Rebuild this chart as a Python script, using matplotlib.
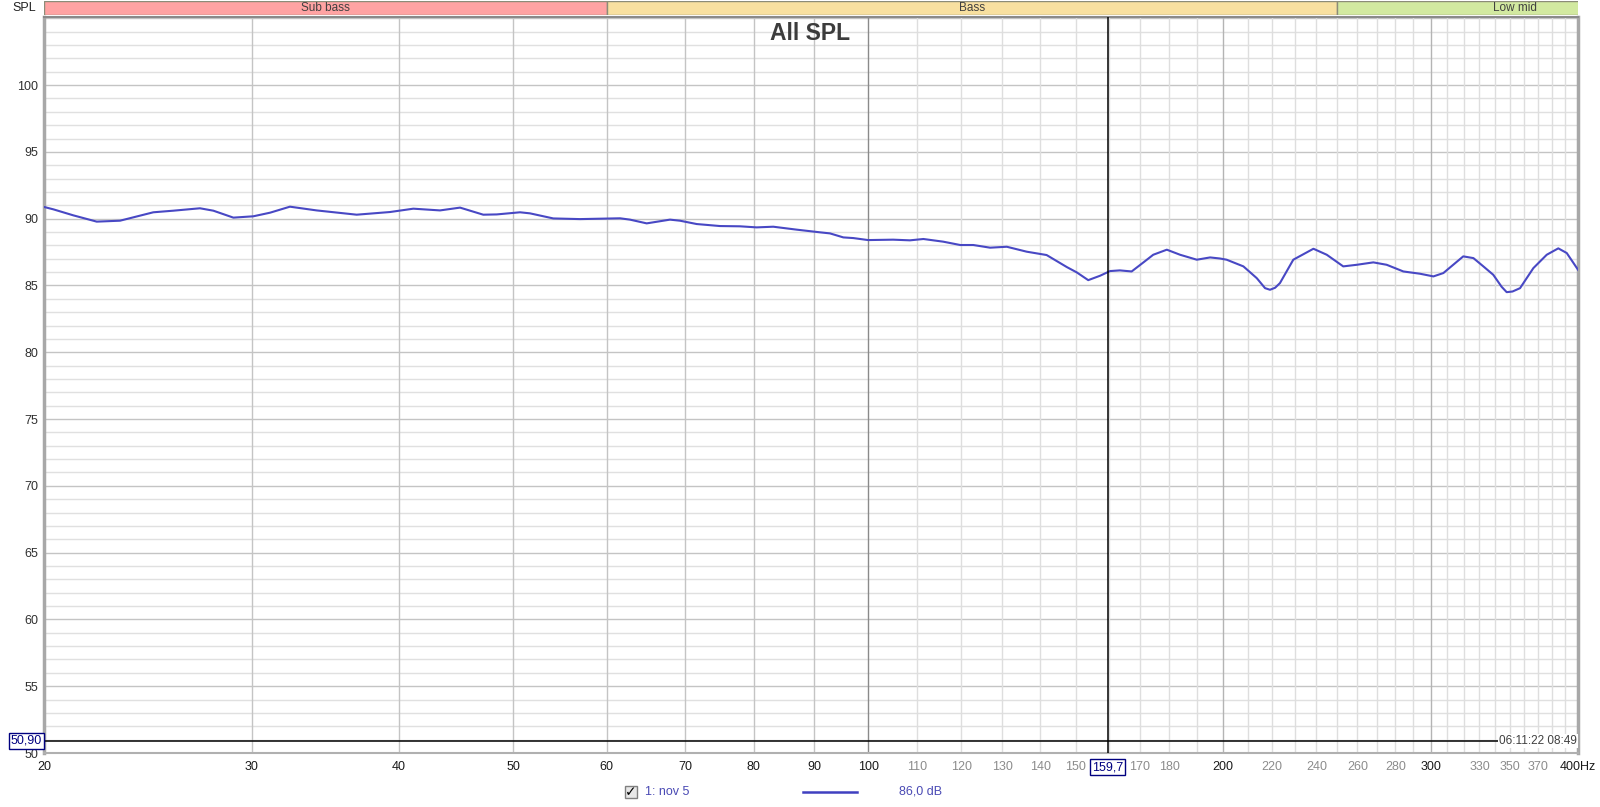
#import libraries
import matplotlib
matplotlib.use('Agg')
import matplotlib.pyplot as plt
from matplotlib.patches import Rectangle
from matplotlib.transforms import blended_transform_factory

plt.rcParams['font.family'] = ['Liberation Sans', 'DejaVu Sans']

freq = [20.0, 20.37, 21.18, 22.17, 23.20, 24.76, 25.75, 27.12, 27.84, 28.95,
        30.10, 31.10, 32.33, 34.06, 36.83, 39.31, 41.14, 43.34, 45.07, 47.16,
        48.42, 50.67, 51.67, 54.07, 56.97, 61.60, 62.81, 64.89, 67.91, 69.25,
        71.55, 74.88, 77.86, 80.44, 83.09, 86.98, 91.03, 92.82, 95.27, 97.15,
        100.0, 105.0, 108.5, 111.4, 115.8, 119.7, 122.8, 126.9, 131.1, 136.3,
        141.7, 147.4, 150.3, 153.7, 157.3, 160.4, 163.5, 167.3, 171.2, 174.5,
        179.2, 183.9, 190.0, 195.0, 198.8, 201.4, 208.1, 213.6, 217.1, 219.2,
        221.4, 223.5, 229.4, 238.6, 244.9, 252.9, 259.7, 268.2, 275.3, 284.4,
        293.8, 301.6, 307.5, 319.7, 326.1, 332.5, 339.0, 344.6, 348.0, 352.0,
        357.2, 366.6, 376.3, 384.9, 391.3, 400.0]
spl = [90.88, 90.70, 90.25, 89.78, 89.85, 90.48, 90.60, 90.78, 90.60, 90.08,
       90.18, 90.45, 90.90, 90.62, 90.30, 90.50, 90.75, 90.62, 90.83, 90.30,
       90.32, 90.48, 90.40, 90.02, 89.97, 90.03, 89.93, 89.65, 89.93, 89.85,
       89.60, 89.45, 89.43, 89.35, 89.40, 89.18, 88.98, 88.90, 88.60, 88.55,
       88.40, 88.43, 88.38, 88.48, 88.28, 88.03, 88.03, 87.83, 87.90, 87.53,
       87.28, 86.38, 85.98, 85.40, 85.73, 86.08, 86.13, 86.05, 86.73, 87.30,
       87.68, 87.30, 86.93, 87.10, 87.02, 86.93, 86.43, 85.55, 84.80, 84.68,
       84.83, 85.18, 86.93, 87.75, 87.30, 86.43, 86.55, 86.73, 86.55, 86.05,
       85.88, 85.68, 85.93, 87.18, 87.05, 86.43, 85.80, 84.90, 84.50, 84.55,
       84.80, 86.30, 87.30, 87.78, 87.43, 86.18]

#frequency bands above the graph
band_names = ['Sub bass', 'Bass', 'Low mid']
band_lo = [20, 60, 250]
band_hi = [60, 250, 500]
band_colors = ['#ffa3a3', '#f8e0a0', '#d2e9a0']

#x axis labels, black ones and grey ones
tick_black = [20, 30, 40, 50, 60, 70, 80, 90, 100, 200, 300, 400]
tick_grey = [110, 120, 130, 140, 150, 170, 180, 220, 240, 260, 280, 330, 350, 370]
y_ticks = [50, 55, 60, 65, 70, 75, 80, 85, 90, 95, 100]

cursor_f = 159.7
cursor_db = 50.90
cursor_f_text = '159,7'
cursor_db_text = '50,90'
cursor_value_text = '86,0 dB'
trace_name = '1: nov 5'
timestamp = '06:11:22 08:49'
title = 'All SPL'

W, H = 1600, 807
fig = plt.figure(figsize=(16, 8.07), dpi=100)
x0, x1, y0, y1 = 44, 1578, 753, 17
ax = fig.add_axes([x0 / W, 1 - y0 / H, (x1 - x0) / W, (y0 - y1) / H])
ax.set_xscale('log')
ax.set_xlim(20, 400)
ax.set_ylim(50, 105.1)

#grid
for db in range(51, 106):
    c = '#c4c4c4' if db % 5 == 0 else '#e0e0e0'
    ax.axhline(db, color=c, lw=1, zorder=1)
for f in range(30, 100, 10):
    ax.axvline(f, color='#c4c4c4', lw=1, zorder=1)
for f in range(110, 400, 10):
    if f in (200, 300):
        ax.axvline(f, color='#b4b4b4', lw=1, zorder=1)
    else:
        ax.axvline(f, color='#dedede', lw=1, zorder=1)
ax.axvline(100, color='#8a8a8a', lw=1, zorder=1)

#the trace
ax.plot(freq, spl, color='#4848c4', lw=1.5, zorder=4, solid_joinstyle='round')

#cursor
ax.axvline(cursor_f, color='black', lw=1.1, zorder=5)
ax.axhline(cursor_db, color='black', lw=1.1, zorder=5)

#ticks
ax.set_xticks(tick_black + tick_grey)
ax.set_xticklabels([str(t) if t != 400 else '400Hz' for t in tick_black] + [str(t) for t in tick_grey])
for lab in ax.get_xticklabels():
    if lab.get_text() in [str(t) for t in tick_grey]:
        lab.set_color('#8c8c8c')
    else:
        lab.set_color('#1a1a1a')
ax.xaxis.set_minor_locator(plt.NullLocator())
ax.set_yticks(y_ticks)
ax.set_yticklabels([str(t) for t in y_ticks])
ax.tick_params(axis='x', length=0, pad=6, labelsize=9)
ax.tick_params(axis='y', length=0, pad=4, labelsize=9, labelcolor='#303030')

for s in ['left', 'right']:
    ax.spines[s].set_color('#a8a8a8')
    ax.spines[s].set_linewidth(2.5)
ax.spines['top'].set_color('#8a8a8a')
ax.spines['top'].set_linewidth(1.5)
ax.spines['bottom'].set_color('#b0b0b0')
ax.spines['bottom'].set_linewidth(1.5)

#cursor readouts
tr = blended_transform_factory(ax.transData, ax.transAxes)
ax.text(cursor_f, -0.0195, cursor_f_text, transform=tr, ha='center', va='center',
        fontsize=9, color='#000080', zorder=6, clip_on=False,
        bbox=dict(boxstyle='square,pad=0.15', fc='white', ec='#000080', lw=1))
tr2 = blended_transform_factory(ax.transAxes, ax.transData)
ax.text(-0.0015, cursor_db, cursor_db_text, transform=tr2, ha='right', va='center',
        fontsize=9, color='#000080', zorder=6, clip_on=False,
        bbox=dict(boxstyle='square,pad=0.15', fc='white', ec='#000080', lw=1))
ax.text(0.9995, cursor_db, timestamp, transform=tr2, ha='right', va='center',
        fontsize=8.5, color='#404040', zorder=6,
        bbox=dict(boxstyle='square,pad=0.1', fc='white', ec='none'))

#title
fig.text(810 / W, 1 - 34 / H, title, ha='center', va='center', fontsize=16.5,
         fontweight='bold', color='#3c3c3c')
fig.text(36 / W, 1 - 8 / H, 'SPL', ha='right', va='center', fontsize=9, color='#202020')

#band strip
bx = fig.add_axes([x0 / W, 1 - 15 / H, (x1 - x0) / W, 14 / H])
bx.set_xscale('log')
bx.set_xlim(20, 400)
bx.set_ylim(0, 1)
for name, lo, hi, c in zip(band_names, band_lo, band_hi, band_colors):
    bx.add_patch(Rectangle((lo, 0), hi - lo, 1, fc=c, ec='#8c8c78', lw=1))
    bx.text((lo * hi) ** 0.5, 0.5, name, ha='center', va='center', fontsize=8.5,
            color='#404040', clip_on=True)
bx.axis('off')

#legend row
fig.patches.append(Rectangle((625 / W, 1 - 798 / H), 12 / W, 12 / H, fc='#e8e8e8',
                             ec='#808080', lw=1, transform=fig.transFigure, figure=fig))
fig.text(631 / W, 1 - 792 / H, '\u2713', ha='center', va='center', fontsize=10,
         color='black', family=['DejaVu Sans'])
fig.text(645 / W, 1 - 792 / H, trace_name, ha='left', va='center', fontsize=9, color='#4a4ab4')
fig.add_artist(plt.Line2D([803 / W, 857 / W], [1 - 792 / H, 1 - 792 / H], color='#4040c0',
                          lw=1.8, transform=fig.transFigure))
fig.text(899 / W, 1 - 792 / H, cursor_value_text, ha='left', va='center', fontsize=9,
         color='#4a4ab4')

fig.savefig('out.png', dpi=100, facecolor='white')
